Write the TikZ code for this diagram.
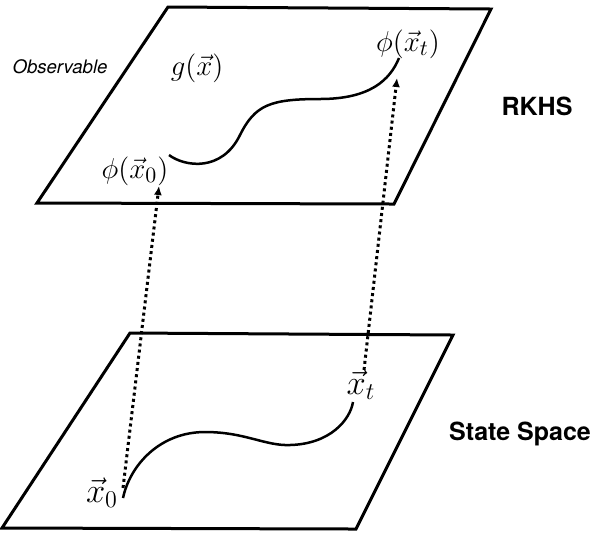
\documentclass[tikz,border=0pt]{standalone}
\usepackage{fontspec}
\newfontfamily\heros{TeX Gyre Heros}
\usetikzlibrary{arrows.meta}

\begin{document}
\begin{tikzpicture}
[
	x=0.5pt, y=-0.5pt,
	plane/.style={line width=1.5pt,line join=miter},
	trajectory/.style={line width=1.25pt},
	mapping/.style={line width=1.5pt,dash pattern=on 1.5pt off 1.6pt,-{Latex[length=4.5pt,width=4pt]}},
	mathlbl/.style={font=\fontsize{15}{18}\selectfont,inner sep=0pt},
	statelbl/.style={font=\fontsize{16.5}{19}\selectfont,inner sep=0pt},
	spacelbl/.style={font=\fontsize{12.5}{15}\selectfont\heros\bfseries,inner sep=0pt,anchor=base},
	obslbl/.style={font=\fontsize{9.3}{11}\selectfont\heros\itshape,inner sep=0pt,anchor=base}
]

	\useasboundingbox (0,0) rectangle (608,532);

	\draw[plane] (168,7) -- (491,9) -- (394,204) -- (37,203) -- cycle;
	\draw[plane] (130,333) -- (453,335) -- (356,529) -- (2,528) -- cycle;

	\node[obslbl] at (60,73) (obs) {Observable};
	\node[spacelbl] at (537,115) (rkhs) {RKHS};
	\node[spacelbl] at (520,440) (state) {State Space};

	\node[mathlbl] at (197,68) (g) {$g(\vec{x})$};
	\node[mathlbl] at (408,44) (phit) {$\phi(\vec{x}_t)$};
	\node[mathlbl] at (135,171) (phi0) {$\phi(\vec{x}_0)$};
	\node[statelbl] at (361,385) (xt) {$\vec{x}_t$};
	\node[statelbl] at (102,493) (x0) {$\vec{x}_0$};

	\draw[trajectory] (169,155) .. controls (185,167) and (222,172) .. (240,135)
		.. controls (255,105) and (270,99) .. (320,99)
		.. controls (370,99) and (390,80) .. (399,58);
	\draw[trajectory] (123,498) .. controls (130,465) and (160,432) .. (205,432)
		.. controls (245,432) and (265,446) .. (290,445)
		.. controls (330,444) and (350,420) .. (353,402);

	\coordinate (x0 foot) at (123,488);
	\coordinate (phi0 head) at (159,186);
	\coordinate (xt foot) at (364,370);
	\coordinate (phit head) at (397,78);

	\draw[mapping] (x0 foot) -- (phi0 head);
	\draw[mapping] (xt foot) -- (phit head);

\end{tikzpicture}
\end{document}
